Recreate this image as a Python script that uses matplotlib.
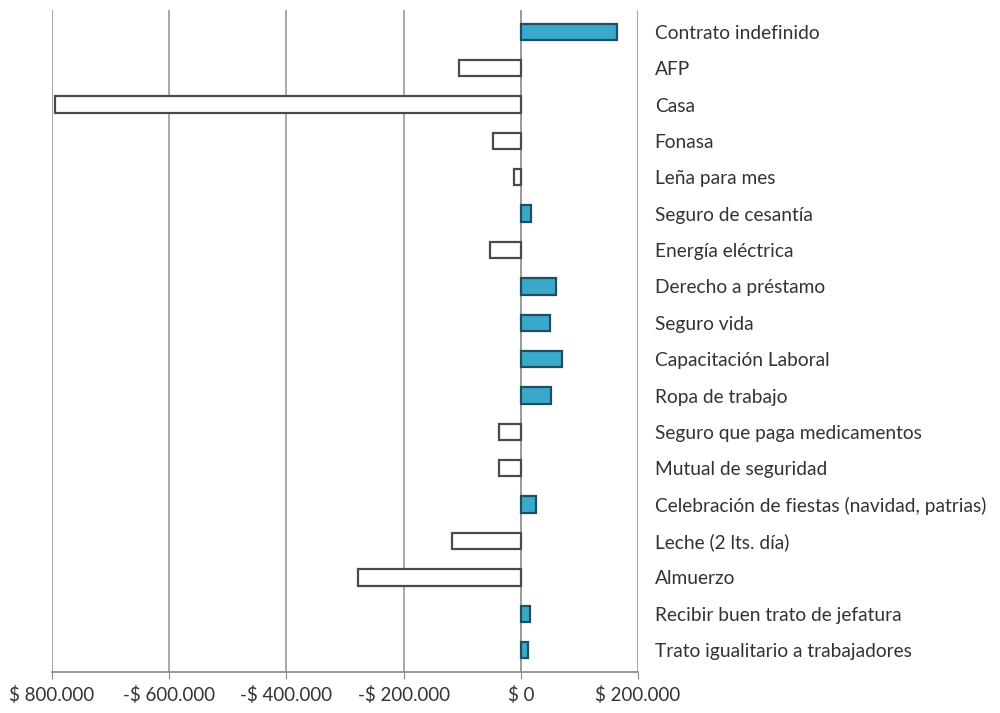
import matplotlib.pyplot as plt
from matplotlib.ticker import FixedLocator

categorias = [
    'Contrato indefinido', 'AFP', 'Casa', 'Fonasa', 'Leña para mes',
    'Seguro de cesantía', 'Energía eléctrica', 'Derecho a préstamo',
    'Seguro vida', 'Capacitación Laboral', 'Ropa de trabajo',
    'Seguro que paga medicamentos', 'Mutual de seguridad',
    'Celebración de fiestas (navidad, patrias)', 'Leche (2 lts. día)',
    'Almuerzo', 'Recibir buen trato de jefatura',
    'Trato igualitario a trabajadores',
]
valores = [165000, -105000, -795000, -48000, -12000, 17000, -53000, 60000,
           50000, 70000, 52000, -38000, -38000, 26000, -117000, -278000,
           15000, 12000]

ticks_x = [-800000, -600000, -400000, -200000, 0, 200000]
etiquetas_x = ['$ 800.000', '-$ 600.000', '-$ 400.000', '-$ 200.000', '$ 0', '$ 200.000']

plt.rcParams['font.family'] = ['Lato', 'DejaVu Sans']

fig = plt.figure(figsize=(10, 7.13), dpi=100)
ax = fig.add_axes([0.052, 0.0575, 0.586, 0.9285])

y = list(range(len(categorias)))
colores = ['#3ba9cc' if v > 0 else 'white' for v in valores]
bordes = ['#1f4f5e' if v > 0 else '#4a4a4a' for v in valores]
ax.barh(y, valores, height=0.45, color=colores, edgecolor=bordes, linewidth=1.6, zorder=3)

ax.set_xlim(-800000, 200000)
ax.set_ylim(len(categorias) - 0.4, -0.6)
ax.xaxis.set_major_locator(FixedLocator(ticks_x))
ax.set_xticklabels(etiquetas_x, fontsize=13.5, color='#333333')
ax.tick_params(axis='x', length=5, color='#888888', pad=5)

# categorias a la derecha
ax.yaxis.tick_right()
ax.set_yticks(y)
ax.set_yticklabels(categorias, fontsize=13.8, color='#333333')
ax.tick_params(axis='y', length=0, pad=12)

ax.grid(axis='x', color='#9a9a9a', linewidth=1.2, zorder=0)
for s in ['top', 'left', 'right']:
    ax.spines[s].set_visible(False)
ax.spines['bottom'].set_color('#888888')
ax.spines['bottom'].set_linewidth(1.2)
ax.axvline(0, color='#9a9a9a', linewidth=1.2, zorder=2)

fig.savefig('out.png', dpi=100)
